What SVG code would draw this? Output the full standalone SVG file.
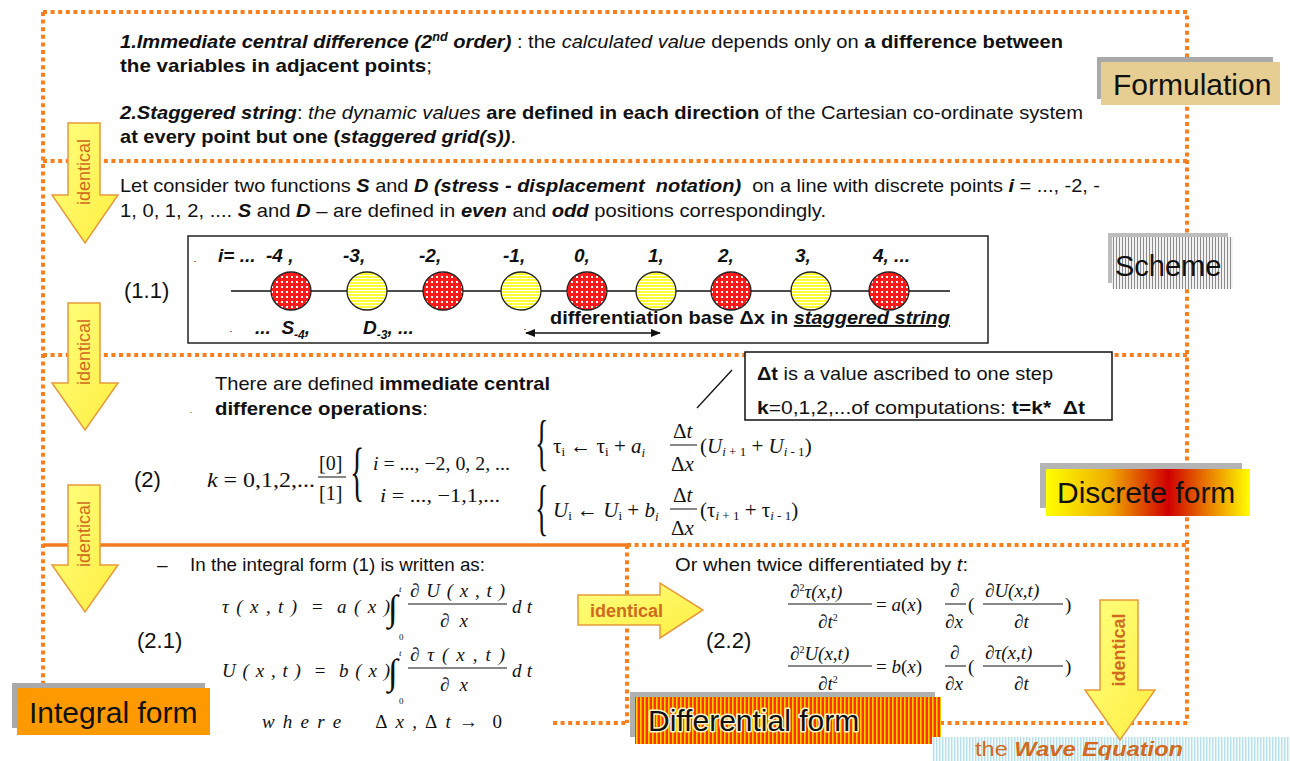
<svg xmlns="http://www.w3.org/2000/svg" width="1290" height="761" viewBox="0 0 1290 761">
<style>
.t{font-family:"Liberation Sans",Arial,sans-serif;font-size:19px;fill:#111}
.b{font-weight:bold}
.i{font-style:italic}
.m{font-family:"Liberation Serif","Times New Roman",serif;font-size:21px;fill:#111}
.mi{font-family:"Liberation Serif","Times New Roman",serif;font-size:19px;font-style:italic;fill:#111}
.sub{font-size:13px}
.lbl{font-family:"Liberation Sans",Arial,sans-serif;font-size:30px;fill:#111}
.dot{fill:none;stroke:#f77f1f;stroke-width:4;stroke-dasharray:4 3.6}
.arr{fill:url(#ygrad);stroke:#e79a3a;stroke-width:1.5}
.at{font-family:"Liberation Sans",Arial,sans-serif;font-size:18px;fill:#cf6a1e}
.fl{stroke:#111;stroke-width:1}
</style>
<defs>
<linearGradient id="ygrad" x1="0" y1="0" x2="1" y2="1"><stop offset="0" stop-color="#ffff80"/><stop offset="1" stop-color="#ffee40"/></linearGradient>
<linearGradient id="dgrad" x1="0" y1="0" x2="1" y2="0"><stop offset="0" stop-color="#ffff00"/><stop offset="0.3" stop-color="#f0b000"/><stop offset="0.6" stop-color="#d00000"/><stop offset="0.85" stop-color="#f0a000"/><stop offset="1" stop-color="#ffff00"/></linearGradient>
<pattern id="chk" width="5" height="5" patternUnits="userSpaceOnUse"><rect width="5" height="5" fill="#ff1a1a"/><rect x="1" y="1" width="2" height="2" fill="#ffffff"/></pattern>
<pattern id="ystr" width="4" height="3" patternUnits="userSpaceOnUse"><rect width="4" height="3" fill="#ffff33"/><rect y="2" width="4" height="1" fill="#ffffff"/></pattern>
<pattern id="gstr" width="3" height="4" patternUnits="userSpaceOnUse"><rect width="3" height="4" fill="#f2f2f2"/><rect width="1" height="4" fill="#8a8a8a"/></pattern>
<pattern id="rstr" width="4" height="4" patternUnits="userSpaceOnUse"><rect width="4" height="4" fill="#ff3300"/><rect width="1.6" height="4" fill="#ffcc00"/></pattern>
<pattern id="cstr" width="3" height="4" patternUnits="userSpaceOnUse"><rect width="3" height="4" fill="#f4fbfc"/><rect width="1.4" height="4" fill="#b8e0e8"/></pattern>
<marker id="ah" viewBox="0 0 10 10" refX="9" refY="5" markerWidth="7" markerHeight="7" orient="auto-start-reverse"><path d="M0,1 L10,5 L0,9 z" fill="#111"/></marker>
</defs>
<rect width="1290" height="761" fill="#ffffff"/>

<g id="frames">
<path class="dot" d="M43,12 H1187 V723"/>
<path class="dot" d="M43,12 V690"/>
<path class="dot" d="M43,161 H1187"/>
<path class="dot" d="M43,355 H1187"/>
<path d="M43,545 H627" stroke="#f47a20" stroke-width="3.5" fill="none"/>
<path class="dot" d="M627,545 H1187"/>
<path class="dot" d="M627,545 V723"/>
<path class="dot" d="M553,723 H627"/>
<path class="dot" d="M940,723 H1187"/>
</g>

<g id="formulation-text">
<text class="t" x="120" y="48" textLength="943" lengthAdjust="spacingAndGlyphs"><tspan class="b i">1.Immediate central difference (2</tspan><tspan class="b i" style="font-size:12px" dy="-7">nd</tspan><tspan class="b i" dy="7"> order)</tspan> : the <tspan class="i">calculated value</tspan> depends only on <tspan class="b">a difference between</tspan></text>
<text class="t" x="120" y="72" textLength="312" lengthAdjust="spacingAndGlyphs"><tspan class="b">the variables in adjacent points</tspan>;</text>
<text class="t" x="120" y="119" textLength="963" lengthAdjust="spacingAndGlyphs"><tspan class="b i">2.Staggered string</tspan>: <tspan class="i">the dynamic values</tspan><tspan class="b"> are defined in each direction</tspan> of the Cartesian co-ordinate system</text>
<text class="t" x="120" y="143" textLength="396" lengthAdjust="spacingAndGlyphs"><tspan class="b">at every point but one (</tspan><tspan class="b i">staggered grid(s))</tspan>.</text>
</g>

<g id="formulation-label">
<rect x="1097" y="57" width="176" height="42" fill="#a9a9a9"/>
<rect x="1101" y="62" width="179" height="43" fill="#e6cd92"/>
<text class="lbl" x="1113" y="95">Formulation</text>
</g>

<g id="scheme-text">
<text class="t" x="120" y="192" textLength="980" lengthAdjust="spacingAndGlyphs" xml:space="preserve">Let consider two functions <tspan class="b i">S</tspan> and <tspan class="b i">D (stress - displacement  notation)</tspan>  on a line with discrete points <tspan class="b i">i</tspan> = ..., -2, -</text>
<text class="t" x="120" y="217" textLength="706" lengthAdjust="spacingAndGlyphs">1, 0, 1, 2, .... <tspan class="b i">S</tspan> and <tspan class="b i">D</tspan> – are defined in <tspan class="b i">even</tspan> and <tspan class="b i">odd</tspan> positions correspondingly.</text>
<text class="t" x="124" y="298" style="font-size:22px">(1.1)</text>
</g>

<g id="scheme-box">
<rect x="188" y="236" width="800" height="107" fill="#ffffff" stroke="#222" stroke-width="1.5"/>
<g class="t b i" style="font-size:19px">
<text x="194" y="262" style="font-size:8px">.</text>
<text x="218" y="262" xml:space="preserve">i= ...  -4 ,</text>
<text x="343" y="262">-3,</text>
<text x="419" y="262">-2,</text>
<text x="503" y="262">-1,</text>
<text x="574" y="262">0,</text>
<text x="648" y="262">1,</text>
<text x="718" y="262">2,</text>
<text x="795" y="262">3,</text>
<text x="873" y="262">4, ...</text>
<text x="230" y="332" style="font-size:8px">.</text>
<text x="255" y="334" xml:space="preserve">...  S<tspan style="font-size:12px" dy="5">-4</tspan><tspan dy="-5">,</tspan></text>
<text x="363" y="334">D<tspan style="font-size:12px" dy="5">-3</tspan><tspan dy="-5">, ...</tspan></text>
<text x="524" y="330" style="font-size:8px">.</text>
</g>
<line x1="231" y1="291" x2="950" y2="291" stroke="#111" stroke-width="1.3"/>
<g stroke="#222" stroke-width="1.3">
<ellipse cx="291" cy="291" rx="20" ry="19" fill="url(#chk)"/>
<ellipse cx="367" cy="291" rx="20" ry="19" fill="url(#ystr)"/>
<ellipse cx="443" cy="291" rx="20" ry="19" fill="url(#chk)"/>
<ellipse cx="521" cy="291" rx="20" ry="19" fill="url(#ystr)"/>
<ellipse cx="587" cy="291" rx="20" ry="19" fill="url(#chk)"/>
<ellipse cx="656" cy="291" rx="20" ry="19" fill="url(#ystr)"/>
<ellipse cx="731" cy="291" rx="20" ry="19" fill="url(#chk)"/>
<ellipse cx="811" cy="291" rx="20" ry="19" fill="url(#ystr)"/>
<ellipse cx="889" cy="291" rx="20" ry="19" fill="url(#chk)"/>
</g>
<text class="t b" x="550" y="324" textLength="400" lengthAdjust="spacingAndGlyphs">differentiation base Δx in <tspan class="i" text-decoration="underline">staggered string</tspan></text>
<line x1="526" y1="333" x2="660" y2="333" stroke="#111" stroke-width="1.5" marker-start="url(#ah)" marker-end="url(#ah)"/>
</g>

<g id="scheme-label">
<rect x="1108" y="233" width="120" height="50" fill="#bdbdbd"/>
<rect x="1112" y="237" width="121" height="52" fill="url(#gstr)"/>
<text class="lbl" x="1115" y="276" style="font-size:29px">Scheme</text>
</g>

<g id="discrete-text">
<text class="t" x="190" y="413" style="font-size:8px">.</text>
<text class="t" x="215" y="390" textLength="335" lengthAdjust="spacingAndGlyphs">There are defined <tspan class="b">immediate central</tspan></text>
<text class="t" x="215" y="415" textLength="213" lengthAdjust="spacingAndGlyphs"><tspan class="b">difference operations</tspan>:</text>
<text class="t" x="134" y="487" style="font-size:22px">(2)</text>
<text class="m" x="207" y="487" style="font-size:22px" textLength="108" lengthAdjust="spacingAndGlyphs"><tspan font-style="italic">k</tspan> = 0,1,2,...</text>
<text class="m" x="319" y="470" style="font-size:20px">[0]</text>
<line class="fl" x1="318" y1="477" x2="346" y2="477"/>
<text class="m" x="319" y="500" style="font-size:20px">[1]</text>
<text class="m" style="font-size:66px" transform="translate(350,493) scale(0.45,1)">{</text>
<text class="m" x="373" y="470" style="font-size:19px" textLength="137" lengthAdjust="spacingAndGlyphs"><tspan font-style="italic">i</tspan> = ..., −2, 0, 2, ...</text>
<text class="m" x="380" y="502" style="font-size:19px" textLength="120" lengthAdjust="spacingAndGlyphs"><tspan font-style="italic">i</tspan> = ..., −1,1,...</text>
<text class="m" style="font-size:62px" transform="translate(535,463) scale(0.45,1)">{</text>
<text class="m" x="553" y="453">τ<tspan class="sub" dy="3">i</tspan><tspan dy="-3"> ← τ</tspan><tspan class="sub" dy="3">i</tspan><tspan dy="-3"> + </tspan><tspan font-style="italic">a</tspan><tspan class="sub" font-style="italic" dy="4">i</tspan></text>
<text class="m" x="673" y="438"><tspan>Δ</tspan><tspan font-style="italic">t</tspan></text>
<line class="fl" x1="670" y1="445" x2="697" y2="445"/>
<text class="m" x="671" y="471"><tspan>Δ</tspan><tspan font-style="italic">x</tspan></text>
<text class="m" x="700" y="453">(<tspan font-style="italic">U</tspan><tspan class="sub" font-style="italic" dy="3">i</tspan><tspan class="sub"> + 1</tspan><tspan dy="-3"> + </tspan><tspan font-style="italic">U</tspan><tspan class="sub" font-style="italic" dy="3">i</tspan><tspan class="sub"> - 1</tspan><tspan dy="-3">)</tspan></text>
<text class="m" style="font-size:62px" transform="translate(535,528) scale(0.45,1)">{</text>
<text class="m" x="553" y="517"><tspan font-style="italic">U</tspan><tspan class="sub" dy="3">i</tspan><tspan dy="-3"> ← </tspan><tspan font-style="italic">U</tspan><tspan class="sub" dy="3">i</tspan><tspan dy="-3"> + </tspan><tspan font-style="italic">b</tspan><tspan class="sub" font-style="italic" dy="4">i</tspan></text>
<text class="m" x="673" y="502"><tspan>Δ</tspan><tspan font-style="italic">t</tspan></text>
<line class="fl" x1="670" y1="509" x2="697" y2="509"/>
<text class="m" x="671" y="535"><tspan>Δ</tspan><tspan font-style="italic">x</tspan></text>
<text class="m" x="700" y="517">(τ<tspan class="sub" font-style="italic" dy="3">i</tspan><tspan class="sub"> + 1</tspan><tspan dy="-3"> + τ</tspan><tspan class="sub" font-style="italic" dy="3">i</tspan><tspan class="sub"> - 1</tspan><tspan dy="-3">)</tspan></text>
</g>

<g id="dt-note">
<line x1="697" y1="408" x2="732" y2="370" stroke="#111" stroke-width="1.3"/>
<rect x="745" y="352" width="367" height="68" fill="#ffffff" stroke="#111" stroke-width="1.5"/>
<text class="t" x="757" y="380" textLength="296" lengthAdjust="spacingAndGlyphs"><tspan class="b">Δt</tspan> is a value ascribed to one step</text>
<text class="t" x="757" y="414" textLength="328" lengthAdjust="spacingAndGlyphs" xml:space="preserve"><tspan class="b">k</tspan>=0,1,2,...of computations: <tspan class="b">t=k*  Δt</tspan></text>
</g>

<g id="discrete-label">
<rect x="1040" y="463" width="202" height="45" fill="#b4b4b4"/>
<rect x="1046" y="469" width="204" height="47" fill="url(#dgrad)"/>
<text class="lbl" x="1057" y="503">Discrete form</text>
</g>

<g id="integral-text">
<text class="t" x="157" y="571">–</text>
<text class="t" x="190" y="571" textLength="295" lengthAdjust="spacingAndGlyphs">In the integral form (1) is written as:</text>
<text class="t" x="137" y="648" style="font-size:22px">(2.1)</text>
<text class="mi" x="222" y="613" textLength="168" lengthAdjust="spacing" xml:space="preserve">τ ( x , t )  =  a ( x )</text>
<text class="m" x="388" y="620" style="font-size:36px">∫</text>
<text class="mi" x="399" y="592" style="font-size:9px">t</text>
<text class="m" x="399" y="640" style="font-size:9px">0</text>
<text class="mi" x="410" y="597" textLength="95" lengthAdjust="spacing">∂ U ( x , t )</text>
<line class="fl" x1="408" y1="604" x2="507" y2="604"/>
<text class="mi" x="440" y="627" textLength="28" lengthAdjust="spacing">∂ x</text>
<text class="mi" x="512" y="613" textLength="20" lengthAdjust="spacing">d t</text>

<text class="mi" x="222" y="677" textLength="168" lengthAdjust="spacing" xml:space="preserve">U ( x , t )  =  b ( x )</text>
<text class="m" x="388" y="684" style="font-size:36px">∫</text>
<text class="mi" x="399" y="656" style="font-size:9px">t</text>
<text class="m" x="399" y="704" style="font-size:9px">0</text>
<text class="mi" x="410" y="661" textLength="95" lengthAdjust="spacing">∂ τ ( x , t )</text>
<line class="fl" x1="408" y1="668" x2="507" y2="668"/>
<text class="mi" x="440" y="691" textLength="28" lengthAdjust="spacing">∂ x</text>
<text class="mi" x="512" y="677" textLength="20" lengthAdjust="spacing">d t</text>

<text class="mi" x="262" y="728" textLength="240" lengthAdjust="spacing" xml:space="preserve">w h e r e     <tspan font-style="normal">Δ</tspan> x , <tspan font-style="normal">Δ</tspan> t <tspan font-style="normal">→  0</tspan></text>
</g>

<g id="integral-label">
<rect x="12" y="683" width="193" height="45" fill="#a9a9a9"/>
<rect x="17" y="688" width="193" height="47" fill="#ff9900"/>
<text class="lbl" x="29" y="723">Integral form</text>
</g>

<g id="differential-text">
<text class="t" x="675" y="571" textLength="293" lengthAdjust="spacingAndGlyphs">Or when twice differentiated by <tspan class="i">t</tspan>:</text>
<text class="t" x="706" y="648" style="font-size:22px">(2.2)</text>
<g class="mi" style="font-size:19px">
<text x="790" y="598">∂<tspan style="font-size:10px;font-style:normal" dy="-7">2</tspan><tspan dy="7">τ(x,t)</tspan></text>
<line class="fl" x1="788" y1="604" x2="872" y2="604"/>
<text x="818" y="628">∂t<tspan style="font-size:10px;font-style:normal" dy="-7">2</tspan></text>
<text x="876" y="611"><tspan style="font-style:normal">= </tspan>a<tspan style="font-style:normal">(</tspan>x<tspan style="font-style:normal">)</tspan></text>
<text x="950" y="597">∂</text>
<line class="fl" x1="945" y1="604" x2="966" y2="604"/>
<text x="945" y="628">∂x</text>
<text x="968" y="611" style="font-style:normal">(</text>
<text x="985" y="597">∂U(x,t)</text>
<line class="fl" x1="983" y1="604" x2="1063" y2="604"/>
<text x="1014" y="628">∂t</text>
<text x="1065" y="611" style="font-style:normal">)</text>

<text x="790" y="660">∂<tspan style="font-size:10px;font-style:normal" dy="-7">2</tspan><tspan dy="7">U(x,t)</tspan></text>
<line class="fl" x1="788" y1="666" x2="872" y2="666"/>
<text x="818" y="690">∂t<tspan style="font-size:10px;font-style:normal" dy="-7">2</tspan></text>
<text x="876" y="673"><tspan style="font-style:normal">= </tspan>b<tspan style="font-style:normal">(</tspan>x<tspan style="font-style:normal">)</tspan></text>
<text x="950" y="659">∂</text>
<line class="fl" x1="945" y1="666" x2="966" y2="666"/>
<text x="945" y="690">∂x</text>
<text x="968" y="673" style="font-style:normal">(</text>
<text x="985" y="659">∂τ(x,t)</text>
<line class="fl" x1="983" y1="666" x2="1063" y2="666"/>
<text x="1014" y="690">∂t</text>
<text x="1065" y="673" style="font-style:normal">)</text>
</g>
</g>

<g id="differential-label">
<rect x="630" y="692" width="305" height="45" fill="#b0b0b0"/>
<rect x="635" y="697" width="306" height="47" fill="url(#rstr)"/>
<text class="lbl" x="648" y="731" stroke="#fff6d0" stroke-width="3" paint-order="stroke" stroke-linejoin="round">Differential form</text>
</g>

<g id="wave-equation">
<rect x="932" y="737" width="358" height="24" fill="url(#cstr)"/>
<text class="t" x="975" y="756" style="font-size:21px;fill:#d2691e" textLength="208" lengthAdjust="spacingAndGlyphs">the <tspan class="b i">Wave Equation</tspan></text>
</g>

<g id="connectors">
<g id="arrow-1"><polygon class="arr" points="68,123 100,123 100,195 118,195 85,243 52,195 68,195"/>
<text class="at" transform="translate(90,172) rotate(-90)" text-anchor="middle">identical</text></g>
<g id="arrow-2"><polygon class="arr" points="68,303 100,303 100,383 118,383 85,430 52,383 68,383"/>
<text class="at" transform="translate(90,352) rotate(-90)" text-anchor="middle">identical</text></g>
<g id="arrow-3"><polygon class="arr" points="68,485 100,485 100,565 118,565 85,612 52,565 68,565"/>
<text class="at" transform="translate(90,534) rotate(-90)" text-anchor="middle">identical</text></g>
<g id="arrow-4"><polygon class="arr" points="578,595 660,595 660,583 703,610 660,638 660,625 578,625"/>
<text class="at b" x="590" y="617">identical</text></g>
<g id="arrow-5"><polygon class="arr" points="1100,600 1138,600 1138,690 1155,690 1120,740 1085,690 1100,690"/>
<text class="at b" transform="translate(1125,650) rotate(-90)" text-anchor="middle">identical</text></g>
</g>
</svg>
